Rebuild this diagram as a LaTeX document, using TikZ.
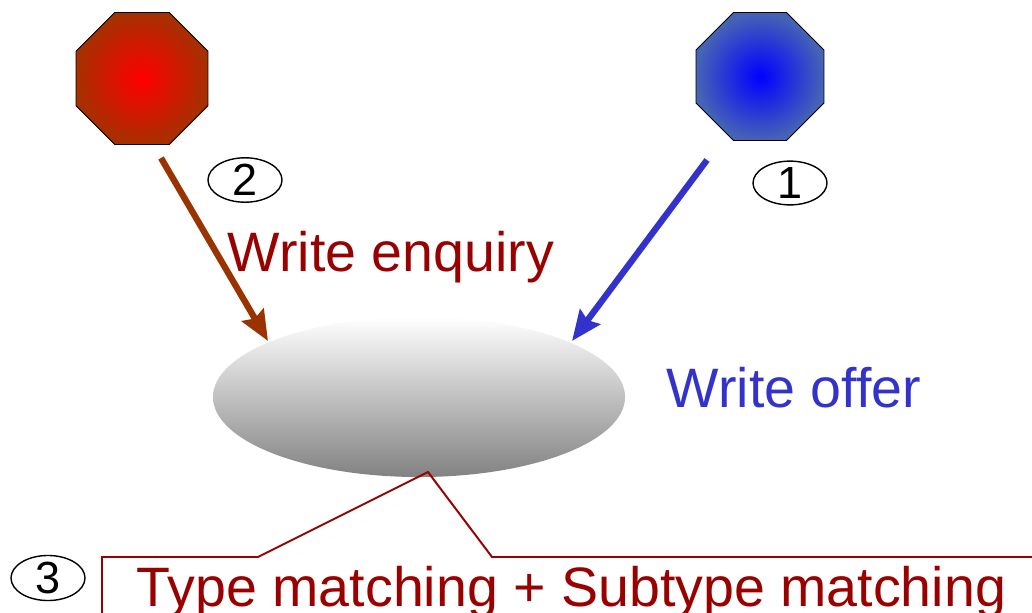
\documentclass[tikz,border=0pt]{standalone}
\usepackage{fontspec}
\setmainfont{Liberation Sans}
\usetikzlibrary{arrows.meta, shapes.geometric}
\definecolor{EnqRed}{HTML}{990000}
\definecolor{EnqBrown}{HTML}{993300}
\definecolor{OfferBlue}{HTML}{3333CC}
\definecolor{RedEdge}{RGB}{165,48,0}
\definecolor{BlueEdge}{RGB}{70,100,180}

\begin{document}
\begin{tikzpicture}[x=0.025cm, y=-0.025cm, >=Stealth,
  stopsign/.style={regular polygon, regular polygon sides=8, draw=black,
    line width=0.6pt, inner sep=0pt},
  stepmark/.style={ellipse, draw=black, line width=1pt, inner sep=0pt,
    minimum width=1.85cm, minimum height=1cm,
    font=\fontsize{32}{32}\selectfont},
  bigtext/.style={font=\fontsize{39.5}{40}\selectfont, inner sep=0pt, anchor=base},
  flow/.style={->, line width=4.5pt, arrows={-Stealth[length=0.75cm, width=0.62cm, inset=0.1cm]}}]
  \useasboundingbox (0,0) rectangle (1032,612);

  % Enquirer and offerer
  \node[stopsign, minimum size=3.57cm, inner color=red, outer color=RedEdge]
    (enquirer) at (142,78.5) {};
  \node[stopsign, minimum size=3.46cm, inner color=blue, outer color=BlueEdge]
    (offerer) at (760,76.5) {};

  % Shared space
  \node[ellipse, minimum width=10.3cm, minimum height=4cm, inner sep=0pt,
    top color=white, bottom color=gray!98] (pool) at (419,397) {};

  % Step numbers
  \node[stepmark] (steptwo) at (245,180) {2};
  \node[stepmark] (stepone) at (790,183) {1};
  \node[stepmark] (stepthree) at (48,578) {3};

  % Writes
  \coordinate (enqfrom) at (161,158);
  \coordinate (enqto) at (268,341);
  \coordinate (offfrom) at (707,160);
  \coordinate (offto) at (572,341);
  \draw[flow, EnqBrown] (enqfrom) -- (enqto);
  \draw[flow, OfferBlue] (offfrom) -- (offto);
  \node[bigtext, EnqRed] (enquiry) at (391,271) {Write enquiry};
  \node[bigtext, OfferBlue] (offer) at (794,407) {Write offer};

  % Matching callout
  \coordinate (tip) at (428,472);
  \draw[EnqRed, line width=1.4pt] (102,620) -- (102,557) -- (258,557)
    -- (tip) -- (492,557) -- (1040,557);
  \node[bigtext, EnqRed] (matching) at (571.5,606) {Type matching + Subtype matching};
\end{tikzpicture}
\end{document}
